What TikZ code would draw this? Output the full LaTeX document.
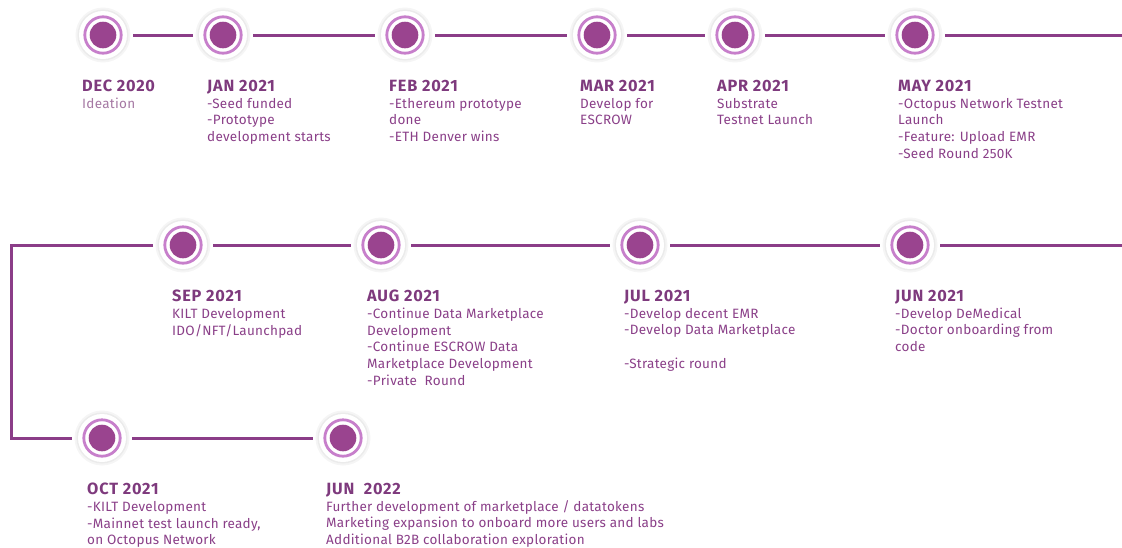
\documentclass[tikz,border=0pt]{standalone}
\usepackage{fontspec}
\setmainfont{Fira Sans}[LetterSpace=2]
\newfontfamily\titlefont{Fira Sans}[LetterSpace=5]
\definecolor{linec}{HTML}{8B3D88}
\definecolor{dotc}{HTML}{9A448F}
\definecolor{ringc}{HTML}{C77FCB}
\definecolor{titlec}{HTML}{7E3A7D}
\definecolor{bodyc}{HTML}{8A3F88}
\definecolor{lightc}{HTML}{A578A3}
\newcommand{\ttl}[1]{{\titlefont\fontsize{16.3}{16.7}\selectfont\bfseries\color{titlec}#1}}
\tikzset{
  milestone/.style={circle, minimum size=48pt, inner sep=0pt, outer sep=6pt,
    fill=white,
    preaction={draw=black!4, line width=7pt},
    preaction={draw=black!8, line width=3pt},
    path picture={
      \draw[ringc, line width=2.8pt] (path picture bounding box.center) circle[radius=18.2pt];
      \fill[dotc] (path picture bounding box.center) circle[radius=13.3pt];
    }},
  conn/.style={draw=linec, line width=3pt},
  txt/.style={anchor=north west, inner sep=0pt, align=left, text=bodyc,
    font=\fontsize{13.5}{16.7}\selectfont},
}
\begin{document}
\begin{tikzpicture}[x=1pt,y=-1pt]
\useasboundingbox (0,0) rectangle (1122,547);
% row 1
\node[milestone] (dec) at (103,35) {};
\node[milestone] (jan) at (223,35) {};
\node[milestone] (feb) at (405,35) {};
\node[milestone] (mar) at (597,35) {};
\node[milestone] (apr) at (735,35) {};
\node[milestone] (may) at (915,35) {};
\coordinate (r1) at (1124,35);
% row 2
\node[milestone] (sep) at (183,245) {};
\node[milestone] (aug) at (381,245) {};
\node[milestone] (jul) at (640,245) {};
\node[milestone] (jun) at (910,245) {};
\coordinate (r2) at (1124,245);
\coordinate (c1) at (11,245);
\coordinate (c2) at (11,438);
% row 3
\node[milestone] (oct) at (102,438) {};
\node[milestone] (jun22) at (343,438) {};
% connectors
\draw[conn] (dec) -- (jan);
\draw[conn] (jan) -- (feb);
\draw[conn] (feb) -- (mar);
\draw[conn] (mar) -- (apr);
\draw[conn] (apr) -- (may);
\draw[conn] (may) -- (r1);
\draw[conn] (sep) -- (aug);
\draw[conn] (aug) -- (jul);
\draw[conn] (jul) -- (jun);
\draw[conn] (jun) -- (r2);
\draw[conn, line join=miter] (sep.west) -- (c1) -- (c2) -- (oct.west);
\draw[conn] (oct) -- (jun22);
% texts row 1
\node[txt] (tdec) at (82,80) {\ttl{DEC 2020}\\{\color{lightc}Ideation}};
\node[txt] (tjan) at (207,80) {\ttl{JAN 2021}\\-Seed funded\\-Prototype\\development starts};
\node[txt] (tfeb) at (389,80) {\ttl{FEB 2021}\\-Ethereum prototype\\done\\-ETH Denver wins};
\node[txt] (tmar) at (580,80) {\ttl{MAR 2021}\\Develop for\\ESCROW};
\node[txt] (tapr) at (717,80) {\ttl{APR 2021}\\Substrate\\Testnet Launch};
\node[txt] (tmay) at (898,80) {\ttl{MAY 2021}\\-Octopus Network Testnet\\Launch\\-Feature: Upload EMR\\-Seed Round 250K};
% texts row 2
\node[txt] (tsep) at (172,290) {\ttl{SEP 2021}\\KILT Development\\IDO/NFT/Launchpad};
\node[txt] (taug) at (367,290) {\ttl{AUG 2021}\\-Continue Data Marketplace\\Development\\-Continue ESCROW Data\\Marketplace Development\\-Private\ \ Round};
\node[txt] (tjul) at (624,290) {\ttl{JUL 2021}\\-Develop decent EMR\\-Develop Data Marketplace\\[16.7pt]-Strategic round};
\node[txt] (tjun) at (895,290) {\ttl{JUN 2021}\\-Develop DeMedical\\-Doctor onboarding from\\code};
% texts row 3
\node[txt] (toct) at (87,483) {\ttl{OCT 2021}\\-KILT Development\\-Mainnet test launch ready,\\on Octopus Network};
\node[txt] (tjun22) at (326,483) {\ttl{JUN\ \ 2022}\\Further development of marketplace / datatokens\\Marketing expansion to onboard more users and labs\\Additional B2B collaboration exploration};
\end{tikzpicture}
\end{document}
